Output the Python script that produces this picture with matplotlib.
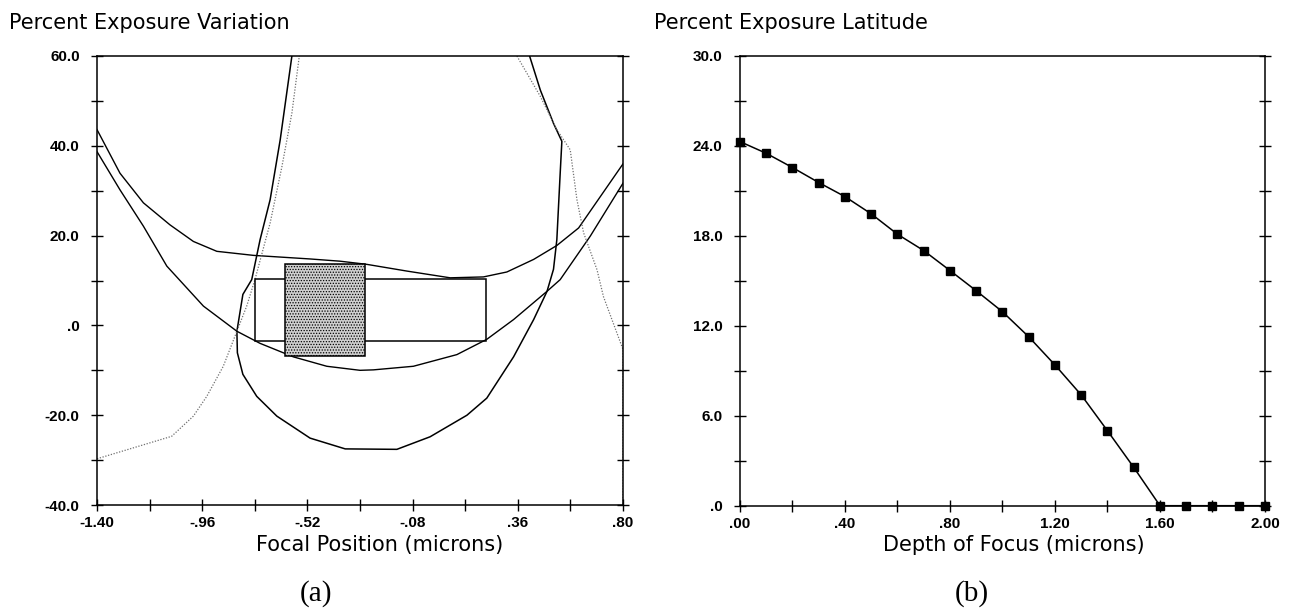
import numpy as np
import matplotlib
matplotlib.use("Agg")
import matplotlib.pyplot as plt
from matplotlib.patches import Rectangle
from matplotlib.ticker import FixedLocator, FuncFormatter

plt.rcParams['font.family'] = ['Liberation Sans', 'DejaVu Sans']
plt.rcParams['hatch.color'] = '#707070'
plt.rcParams['hatch.linewidth'] = 0.6

# ---- panel (a): exposure variation vs focal position ----
upper_x = [-1.40, -1.304, -1.206, -1.095, -0.997, -0.899, -0.746, -0.509, -0.383, -0.272,
           -0.104, 0.077, 0.216, 0.314, 0.426, 0.523, 0.614, 0.80]
upper_y = [43.6, 33.9, 27.3, 22.4, 18.7, 16.5, 15.6, 14.8, 14.3, 13.6,
           12.1, 10.6, 10.8, 11.9, 14.7, 17.8, 21.7, 36.0]

lower_x = [-1.40, -1.304, -1.206, -1.108, -0.955, -0.815, -0.718, -0.579, -0.439, -0.30,
           -0.244, -0.077, 0.105, 0.23, 0.342, 0.482, 0.537, 0.663, 0.80]
lower_y = [38.7, 30.2, 22.1, 13.2, 4.3, -1.3, -4.0, -7.0, -9.1, -10.0,
           -9.9, -9.1, -6.5, -3.1, 1.3, 7.6, 10.2, 19.9, 31.7]

bowl_x = [-0.585, -0.634, -0.676, -0.718, -0.753, -0.79, -0.815, -0.813, -0.79, -0.732,
          -0.648, -0.509, -0.362, -0.146, -0.007, 0.147, 0.23, 0.342, 0.426, 0.482,
          0.509, 0.523, 0.53, 0.537, 0.544, 0.509, 0.454, 0.409]
bowl_y = [60.0, 41.3, 28.0, 19.1, 10.2, 6.9, -1.3, -6.1, -10.9, -15.8,
          -20.2, -25.1, -27.5, -27.6, -24.8, -20.0, -16.2, -7.0, 1.3, 7.6,
          12.5, 19.1, 26.5, 33.9, 41.0, 45.0, 52.4, 60.0]

dot_left_x = [-1.40, -1.088, -0.997, -0.941, -0.872, -0.815, -0.774, -0.739, -0.676, -0.627,
              -0.585, -0.554]
dot_left_y = [-29.7, -24.7, -20.2, -15.8, -9.1, -1.3, 4.3, 10.3, 22.8, 35.3,
              47.3, 60.0]
dot_right_x = [0.356, 0.454, 0.523, 0.579, 0.607, 0.635, 0.691, 0.718, 0.80, 0.80]
dot_right_y = [60.0, 51.0, 43.6, 39.1, 28.0, 20.6, 12.4, 6.4, -5.4, -40.0]

# process windows (focus min, focus max, exposure min, exposure max)
open_box = [-0.739, 0.226, -3.5, 10.3]
shaded_box = [-0.613, -0.279, -6.8, 13.7]

# ---- panel (b): exposure latitude vs depth of focus ----
dof = [0.0, 0.1, 0.2, 0.3, 0.4, 0.5, 0.6, 0.7, 0.8, 0.9, 1.0,
       1.1, 1.2, 1.3, 1.4, 1.5, 1.6, 1.7, 1.8, 1.9, 2.0]
latitude = [24.29, 23.51, 22.56, 21.56, 20.62, 19.47, 18.11, 17.02, 15.69, 14.34, 12.94,
            11.27, 9.39, 7.39, 5.0, 2.56, 0.0, 0.0, 0.0, 0.0, 0.0]

head_font = ['DejaVu Sans']


def trim(fmt):
    def f(v, pos=None):
        s = fmt.format(v)
        if s.startswith('-0.'):
            s = '-' + s[2:]
        elif s.startswith('0.'):
            s = s[1:]
        return s
    return f


def style_axes(ax, xticks, yticks, xfmt, yfmt):
    for sp in ax.spines.values():
        sp.set_linewidth(1.1)
    ax.xaxis.set_major_locator(FixedLocator(xticks))
    ax.yaxis.set_major_locator(FixedLocator(yticks))
    xlab = trim(xfmt)
    ylab = trim(yfmt)
    ax.xaxis.set_major_formatter(FuncFormatter(
        lambda v, p: xlab(v) if p is not None and p % 2 == 0 else ''))
    ax.yaxis.set_major_formatter(FuncFormatter(
        lambda v, p: ylab(v) if p is not None and p % 2 == 0 else ''))
    ax.tick_params(axis='both', direction='inout', length=8, width=1.0,
                   labelsize=11, colors='black')
    ax.tick_params(axis='x', pad=4.0, top=False, bottom=True)
    ax.tick_params(axis='y', pad=8.5, left=True, right=True)
    for t in ax.get_xticklabels() + ax.get_yticklabels():
        t.set_fontweight('bold')


fig = plt.figure(figsize=(12.97, 6.12), dpi=100)

ax1 = fig.add_axes([0.0748, 0.1748, 0.4056, 0.7337])
ax1.plot(upper_x, upper_y, color='black', lw=1.0)
ax1.plot(lower_x, lower_y, color='black', lw=1.0)
ax1.plot(bowl_x, bowl_y, color='black', lw=1.1)
ax1.plot(dot_left_x, dot_left_y, color='#707070', lw=0.9, linestyle=(0, (1, 1.3)))
ax1.plot(dot_right_x, dot_right_y, color='#707070', lw=0.9, linestyle=(0, (1, 1.3)))
ax1.add_patch(Rectangle((open_box[0], open_box[2]), open_box[1] - open_box[0],
                        open_box[3] - open_box[2], facecolor='none',
                        edgecolor='black', lw=1.1, zorder=3))
ax1.add_patch(Rectangle((shaded_box[0], shaded_box[2]), shaded_box[1] - shaded_box[0],
                        shaded_box[3] - shaded_box[2], facecolor='#cfcfcf',
                        edgecolor='black', hatch='......', lw=1.1, zorder=4))
ax1.set_xlim(-1.40, 0.80)
ax1.set_ylim(-40, 60)
style_axes(ax1, np.linspace(-1.40, 0.80, 11), np.arange(-40, 61, 10), '{:.2f}', '{:.1f}')

ax2 = fig.add_axes([0.5705, 0.1737, 0.4048, 0.7348])
ax2.plot(dof, latitude, color='black', lw=1.1, marker='s', markersize=5.5,
         clip_on=False, zorder=3)
ax2.set_xlim(0, 2.0)
ax2.set_ylim(0, 30)
style_axes(ax2, np.linspace(0, 2.0, 11), np.arange(0, 31, 3), '{:.2f}', '{:.1f}')

fig.text(0.007, 0.962, 'Percent Exposure Variation', fontsize=15, va='center', ha='left',
         family=head_font)
fig.text(0.504, 0.962, 'Percent Exposure Latitude', fontsize=15, va='center', ha='left',
         family=head_font)
fig.text(0.293, 0.109, 'Focal Position (microns)', fontsize=15, va='center', ha='center',
         family=head_font)
fig.text(0.782, 0.109, 'Depth of Focus (microns)', fontsize=15, va='center', ha='center',
         family=head_font)
fig.text(0.244, 0.030, '(a)', fontsize=21, va='center', ha='center',
         family=['Liberation Serif', 'DejaVu Serif'])
fig.text(0.749, 0.030, '(b)', fontsize=21, va='center', ha='center',
         family=['Liberation Serif', 'DejaVu Serif'])

fig.savefig('out.png', dpi=100)
